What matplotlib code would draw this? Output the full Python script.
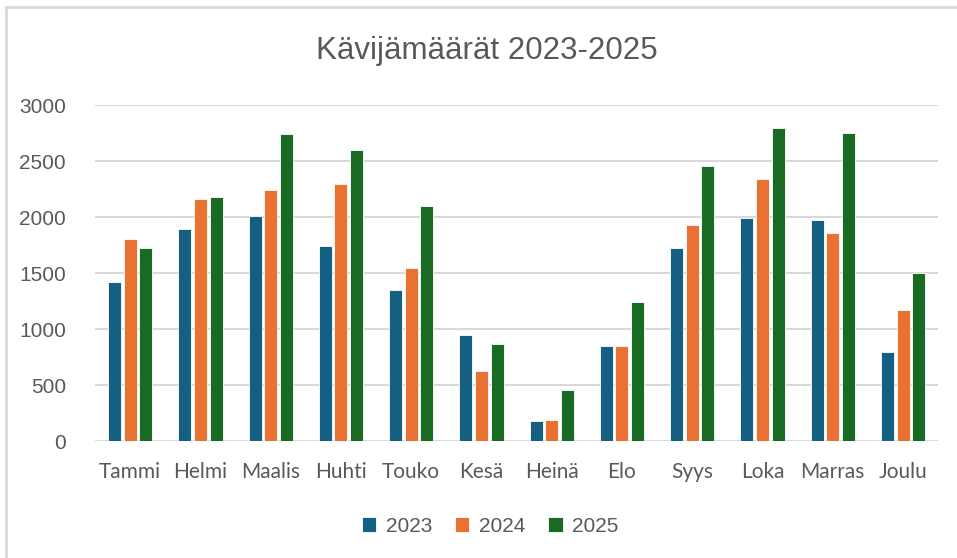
import matplotlib
matplotlib.use("Agg")
import matplotlib.pyplot as plt
import numpy as np
from matplotlib.lines import Line2D

months = ["Tammi", "Helmi", "Maalis", "Huhti", "Touko", "Kesä",
          "Heinä", "Elo", "Syys", "Loka", "Marras", "Joulu"]
v2023 = [1420, 1900, 2010, 1740, 1350, 945, 180, 855, 1725, 1990, 1975, 795]
v2024 = [1805, 2160, 2240, 2295, 1550, 625, 190, 855, 1930, 2340, 1860, 1175]
v2025 = [1725, 2180, 2745, 2600, 2100, 865, 455, 1245, 2455, 2800, 2755, 1500]
years = ["2023", "2024", "2025"]
colors = ["#156082", "#E97132", "#196B24"]

txt = "#595959"
grid = "#D9D9D9"

fig = plt.figure(figsize=(9.57, 5.58), dpi=100)
ax = fig.add_axes([0.0993, 0.2091, 0.8810, 0.6022])

x = np.arange(len(months))
step = 0.222
for i, (vals, lab, c) in enumerate(zip([v2023, v2024, v2025], years, colors)):
    ax.bar(x + (i - 1) * step, vals, width=0.185, color=c, edgecolor="white",
           linewidth=0.6, label=lab, zorder=3)

ax.set_xlim(-0.5, 11.5)
ax.set_ylim(0, 3000)
ax.set_yticks(np.arange(0, 3001, 500))
ax.yaxis.grid(True, color=grid, linewidth=1.5, zorder=0)
ax.set_axisbelow(True)
for s in ax.spines.values():
    s.set_visible(False)
ax.axhline(0, color=grid, linewidth=1.5, zorder=2)
ax.tick_params(length=0)
ax.tick_params(axis="y", pad=21, labelsize=15, labelcolor=txt)
ax.tick_params(axis="x", pad=15, labelcolor=txt)
ax.set_xticks(x)
ax.set_xticklabels(months, fontsize=15, family=["Lato", "DejaVu Sans"])
for t in ax.get_yticklabels():
    t.set_family(["Liberation Sans", "DejaVu Sans"])

fig.text(0.509, 0.908, "Kävijämäärät 2023-2025", ha="center", va="center",
         fontsize=22.5, color=txt, family=["Liberation Sans Narrow", "Liberation Sans", "DejaVu Sans"])

leg = fig.legend(loc="center", bbox_to_anchor=(0.512, 0.057), ncol=3, frameon=False,
                 prop={"family": "Liberation Sans", "size": 15},
                 handlelength=0.7, handleheight=0.7, handletextpad=0.45, columnspacing=1.1)
for t in leg.get_texts():
    t.set_color(txt)

# chart border (top and left visible)
fig.add_artist(Line2D([6 / 957, 6 / 957], [0, 1 - 7 / 558], transform=fig.transFigure,
                      color=grid, linewidth=2))
fig.add_artist(Line2D([6 / 957, 1], [1 - 7 / 558, 1 - 7 / 558], transform=fig.transFigure,
                      color=grid, linewidth=2))

fig.savefig("out.png", dpi=100)
